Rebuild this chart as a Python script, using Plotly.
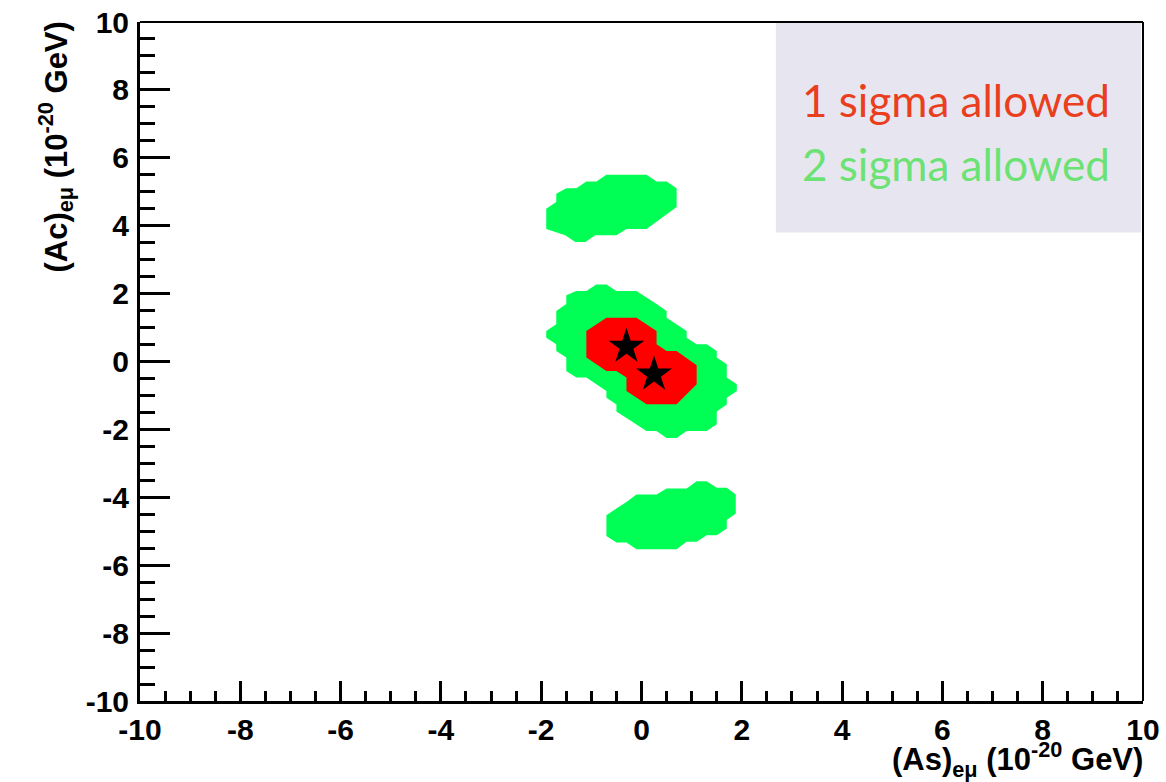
import plotly.graph_objects as go

# ---- data: allowed regions in the (As, Ac) plane, units 1e-20 GeV ----
upper_2s_x = [-0.70, 0.10, 0.30, 0.50, 0.70, 0.70, 0.10, -0.30, -0.50, -0.92, -1.12, -1.32,
              -1.52, -1.90, -1.90, -1.70, -1.70, -1.50, -1.30, -1.10, -0.90]
upper_2s_y = [5.50, 5.50, 5.30, 5.30, 5.10, 4.55, 3.90, 3.90, 3.72, 3.72, 3.52, 3.52,
              3.72, 3.90, 4.50, 4.70, 4.94, 5.10, 5.10, 5.30, 5.30]

middle_2s_x = [-0.90, -0.70, -0.50, -0.10, 0.30, 0.50, 0.50, 0.70, 0.90, 0.90, 1.10, 1.30,
               1.50, 1.50, 1.70, 1.70, 1.90, 1.90, 1.70, 1.70, 1.50, 1.50, 1.30, 0.90,
               0.70, 0.50, 0.30, 0.10, -0.10, -0.50, -0.50, -0.70, -0.70, -0.90, -1.10, -1.30,
               -1.50, -1.50, -1.70, -1.70, -1.90, -1.90, -1.70, -1.70, -1.50, -1.50, -1.30, -1.10]
middle_2s_y = [2.27, 2.27, 2.08, 2.08, 1.69, 1.49, 1.29, 1.10, 0.90, 0.70, 0.51, 0.51,
               0.31, 0.12, -0.08, -0.47, -0.67, -0.87, -1.07, -1.27, -1.47, -1.85, -2.05, -2.05,
               -2.25, -2.25, -2.05, -2.05, -1.85, -1.47, -1.27, -1.07, -0.87, -0.67, -0.47, -0.47,
               -0.28, 0.12, 0.31, 0.51, 0.70, 0.90, 1.10, 1.49, 1.69, 1.95, 2.08, 2.08]

lower_2s_x = [1.10, 1.30, 1.50, 1.70, 1.88, 1.88, 1.70, 1.70, 1.50, 1.30, 1.10, 0.90,
              0.70, -0.10, -0.30, -0.50, -0.70, -0.70, -0.50, -0.30, -0.10, 0.30, 0.50, 0.90]
lower_2s_y = [-3.53, -3.53, -3.72, -3.72, -3.92, -4.48, -4.67, -4.92, -5.12, -5.12, -5.31, -5.31,
              -5.53, -5.53, -5.33, -5.33, -5.14, -4.53, -4.33, -4.14, -3.92, -3.92, -3.74, -3.74]

one_sigma_x = [-0.70, -0.10, 0.30, 0.30, 0.50, 0.70, 1.10, 1.10, 0.70, 0.10, -0.30, -0.30,
               -0.50, -0.70, -1.10, -1.10]
one_sigma_y = [1.29, 1.29, 0.90, 0.51, 0.31, 0.31, -0.11, -0.67, -1.26, -1.26, -0.87, -0.47,
               -0.28, -0.28, 0.12, 0.90]

best_fit_x = [-0.30, 0.25]
best_fit_y = [0.44, -0.38]

tick_vals = [-10, -8, -6, -4, -2, 0, 2, 4, 6, 8, 10]
legend_labels = ["1 sigma allowed", "2 sigma allowed"]

GREEN = "#00ff55"
RED = "#ff0000"

fig = go.Figure()
for xs, ys in [(upper_2s_x, upper_2s_y), (middle_2s_x, middle_2s_y), (lower_2s_x, lower_2s_y)]:
    fig.add_trace(go.Scatter(x=xs, y=ys, mode="lines", fill="toself", fillcolor=GREEN,
                             line=dict(width=0, color=GREEN), hoverinfo="skip", showlegend=False))
fig.add_trace(go.Scatter(x=one_sigma_x, y=one_sigma_y, mode="lines", fill="toself", fillcolor=RED,
                         line=dict(width=0, color=RED), hoverinfo="skip", showlegend=False))
fig.add_trace(go.Scatter(x=best_fit_x, y=best_fit_y, mode="markers",
                         marker=dict(symbol="star", size=27, color="black", line=dict(width=0)),
                         showlegend=False))

tickfont = dict(family="Liberation Sans", size=30, color="black", weight="bold")

fig.update_layout(
    width=1166, height=782,
    margin=dict(l=140, r=23, t=22, b=81, autoexpand=False),
    paper_bgcolor="white", plot_bgcolor="white",
    showlegend=False,
    xaxis=dict(range=[-10, 10], tickvals=tick_vals, ticktext=[str(v) for v in tick_vals],
               ticks="inside", ticklen=20, tickwidth=3, tickcolor="black",
               minor=dict(ticks="inside", ticklen=10, tickwidth=2.5, dtick=0.5, tickcolor="black"),
               showline=True, linewidth=3, linecolor="black", mirror=False, automargin=False,
               showgrid=False, zeroline=False, tickfont=tickfont, ticklabelstandoff=0),
    yaxis=dict(range=[-10, 10], tickvals=tick_vals, ticktext=[str(v) for v in tick_vals],
               ticks="inside", ticklen=30, tickwidth=3, tickcolor="black",
               minor=dict(ticks="inside", ticklen=15, tickwidth=2.5, dtick=0.5, tickcolor="black"),
               showline=True, linewidth=3, linecolor="black", mirror=False, automargin=False,
               showgrid=False, zeroline=False, tickfont=tickfont, ticklabelstandoff=2),
)

# legend box
fig.add_shape(type="rect", xref="x", yref="y", x0=2.68, x1=9.96, y0=3.80, y1=9.97,
              fillcolor="#e7e6f0", line=dict(width=0), layer="below")
# top and right frame
fig.add_shape(type="line", xref="paper", yref="paper", x0=0, x1=1, y0=1, y1=1,
              line=dict(color="black", width=2))
fig.add_shape(type="line", xref="paper", yref="paper", x0=1, x1=1, y0=0, y1=1,
              line=dict(color="black", width=2))

legend_colors = ["#ea3f1e", "#6ce274"]
legend_y = [100, 164]
for lab, col, py in zip(legend_labels, legend_colors, legend_y):
    fig.add_annotation(xref="paper", yref="paper", x=(1112 - 140) / 1003, y=1 - (py - 22) / 679,
                       xanchor="right", yanchor="middle", showarrow=False, text=lab,
                       font=dict(family="Lato", size=44, color=col))

title_font = dict(family="Liberation Sans", size=31, color="black")
fig.add_annotation(xref="paper", yref="paper", x=1, y=0, xanchor="right", yanchor="top",
                   yshift=-34, xshift=2, showarrow=False,
                   text="<b>(As)<sub>eμ</sub> (10<sup>-20</sup> GeV)</b>", font=title_font)
fig.add_annotation(xref="paper", yref="paper", x=0, y=1, xanchor="center", yanchor="top",
                   xshift=-84, yshift=2, showarrow=False, textangle=-90,
                   text="<b>(Ac)<sub>eμ</sub> (10<sup>-20</sup> GeV)</b>", font=title_font)

fig.write_html("out.html")
